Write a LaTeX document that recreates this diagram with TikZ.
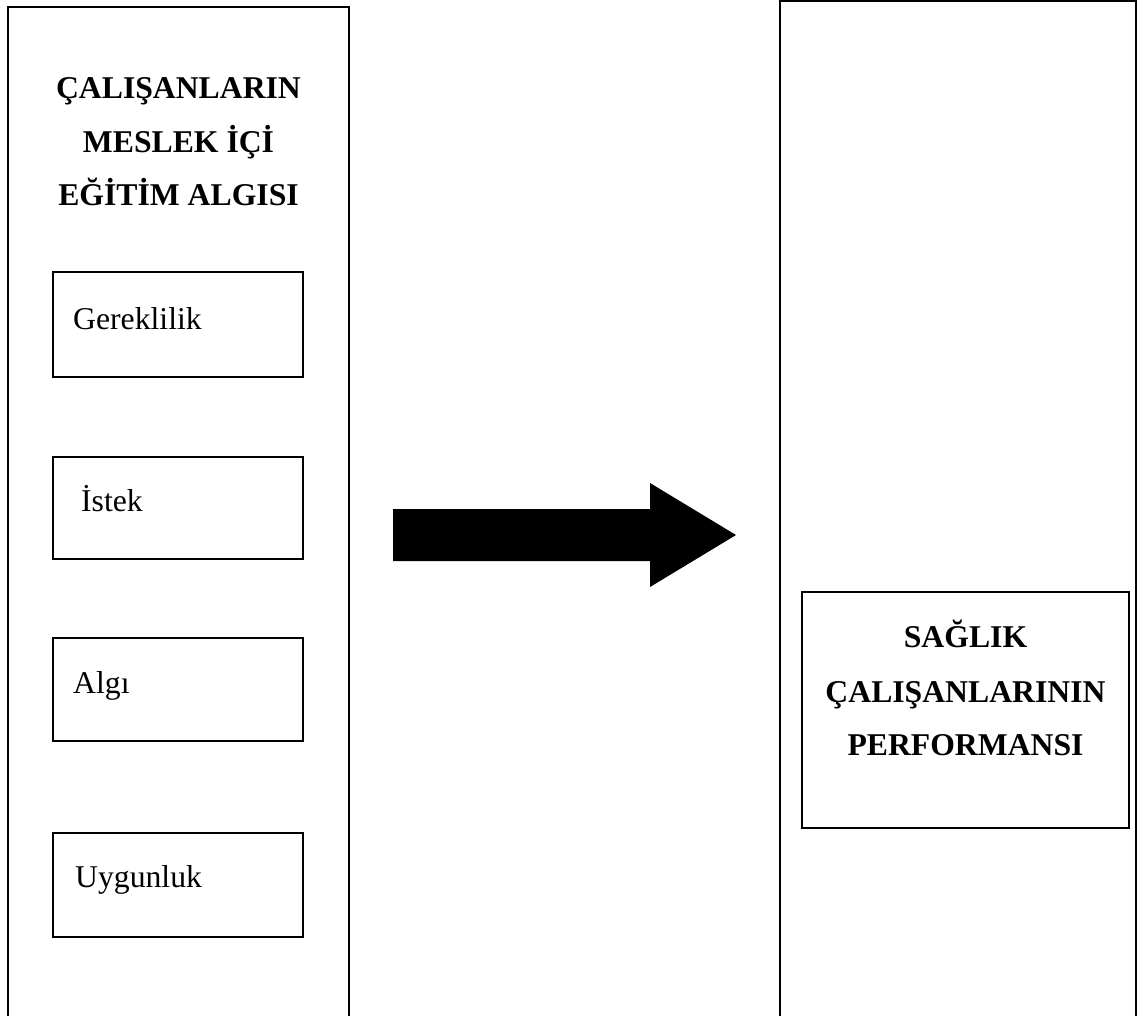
\documentclass[tikz,border=0pt]{standalone}
\usepackage{fontspec}
\setmainfont{Liberation Serif}
\begin{document}
\begin{tikzpicture}[x=1pt,y=-1pt,
  outerbox/.style={draw=black,line width=2pt},
  itembox/.style={draw=black,line width=1.6pt},
  bigtxt/.style={font=\fontsize{31.7}{53.5}\selectfont\bfseries,align=center,inner sep=0pt},
  itemtxt/.style={font=\fontsize{31.7}{38}\selectfont,inner sep=0pt,anchor=base west}]
\useasboundingbox (0,0) rectangle (1143,1015);
\clip (0,0) rectangle (1143,1015);
% outer columns (open at the bottom, past the page edge)
\draw[outerbox] (8,7) rectangle (349,1040);
\draw[outerbox] (779.5,1) rectangle (1136,1040);
\node[bigtxt,anchor=base] (lt1) at (178.5,98.5) {ÇALIŞANLARIN};
\node[bigtxt,anchor=base] (lt2) at (178.5,152) {MESLEK İÇİ};
\node[bigtxt,anchor=base] (lt3) at (178.5,205.5) {EĞİTİM ALGISI};
% item boxes
\draw[itembox] (53,272) rectangle (303,377);
\node[itemtxt] (g) at (73,329) {Gereklilik};
\draw[itembox] (53,457) rectangle (303,559);
\node[itemtxt] (i) at (73,511) {\ İstek};
\draw[itembox] (53,638) rectangle (303,741);
\node[itemtxt] (a) at (73,693) {Algı};
\draw[itembox] (53,833) rectangle (303,937);
\node[itemtxt] (u) at (75,887) {Uygunluk};
% right box
\draw[itembox] (802,592) rectangle (1129,828);
\node[bigtxt,anchor=base] (r1) at (965.5,647) {SAĞLIK};
\node[bigtxt,anchor=base] (r2) at (965.5,702) {ÇALIŞANLARININ};
\node[bigtxt,anchor=base] (r3) at (965.5,755) {PERFORMANSI};
% block arrow
\fill[black] (393,509) -- (650,509) -- (650,483) -- (736,535) -- (650,587) -- (650,561) -- (393,561) -- cycle;
\end{tikzpicture}
\end{document}
